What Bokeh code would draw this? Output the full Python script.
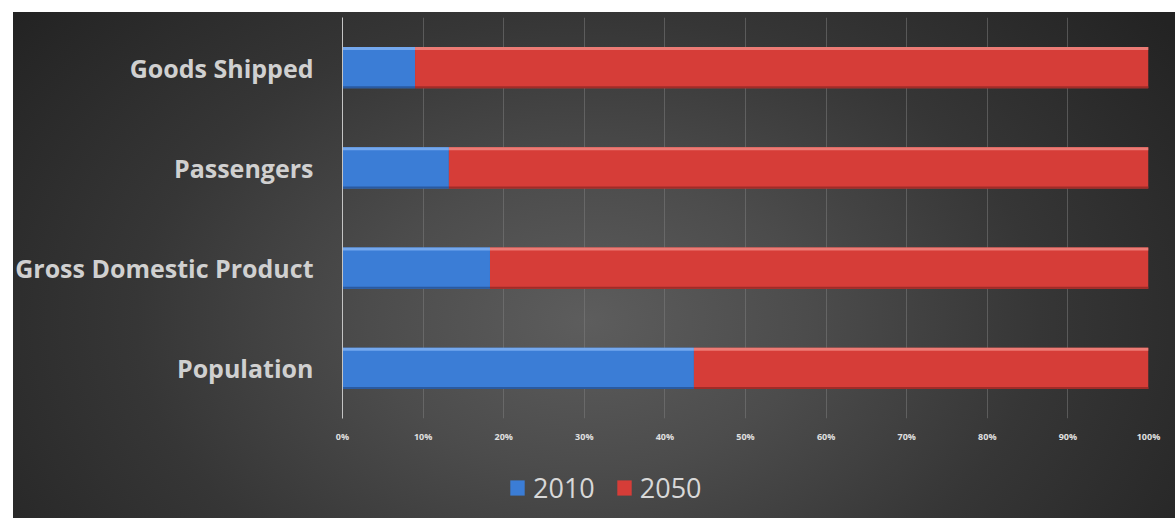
from bokeh.plotting import figure
from bokeh.models import (ColumnDataSource, FactorRange, FixedTicker, NumeralTickFormatter,
                          Legend, LegendItem, Range1d)
from bokeh.layouts import column
from bokeh.transform import dodge
from bokeh.embed import file_html
from bokeh.resources import INLINE

# ---- data (shares of total) ----
categories = ["Population", "Gross Domestic Product", "Passengers", "Goods Shipped"]
share_2010 = [0.436, 0.183, 0.132, 0.090]
share_2050 = [0.564, 0.817, 0.868, 0.910]
series_names = ["2010", "2050"]
x_ticks = [0.0, 0.1, 0.2, 0.3, 0.4, 0.5, 0.6, 0.7, 0.8, 0.9, 1.0]

blue = "#3b7dd6"
red = "#d63d38"

left_2050 = share_2010
right_2050 = [a + b for a, b in zip(share_2010, share_2050)]

src = ColumnDataSource(dict(cat=categories, s2010=share_2010, zero=[0.0] * len(categories),
                            l2050=left_2050, r2050=right_2050))

gradient = ("linear-gradient(#ffffff, #ffffff) top left / 100% 12px no-repeat, "
            "linear-gradient(#ffffff, #ffffff) top left / 13px 100% no-repeat, "
            "radial-gradient(ellipse 62% 95% at 50% 62%, #5d5d5d 0%, #4c4c4c 30%, #363636 62%, #232323 100%)")

W, H_MAIN, H_LEG = 1175, 448, 70

p = figure(width=W, height=H_MAIN, output_backend="svg", toolbar_location=None,
           y_range=FactorRange(factors=categories, range_padding=0),
           x_range=Range1d(0, 1),
           min_border_left=342, min_border_right=27, min_border_top=17, min_border_bottom=30)
p.border_fill_alpha = 0
p.background_fill_alpha = 0
p.outline_line_color = None

# main bars
r1 = p.hbar(y="cat", left="zero", right="s2010", height=0.41, source=src,
            fill_color=blue, line_color=None)
r2 = p.hbar(y="cat", left="l2050", right="r2050", height=0.41, source=src,
            fill_color=red, line_color=None)
# bevel highlights / shadows
p.hbar(y=dodge("cat", 0.19, range=p.y_range), left="zero", right="s2010", height=0.03,
       source=src, fill_color="#74a8ee", line_color=None)
p.hbar(y=dodge("cat", 0.19, range=p.y_range), left="l2050", right="r2050", height=0.03,
       source=src, fill_color="#ec7b75", line_color=None)
p.hbar(y=dodge("cat", -0.195, range=p.y_range), left="zero", right="s2010", height=0.02,
       source=src, fill_color="#2a5aa0", line_color=None)
p.hbar(y=dodge("cat", -0.195, range=p.y_range), left="l2050", right="r2050", height=0.02,
       source=src, fill_color="#a02c28", line_color=None)

# grid
p.ygrid.grid_line_color = None
p.xgrid.ticker = FixedTicker(ticks=x_ticks)
p.xgrid.grid_line_color = "#808080"
p.xgrid.grid_line_alpha = 0.5
p.xgrid.grid_line_width = 1
p.xgrid.level = "underlay"

# x axis
p.xaxis.ticker = FixedTicker(ticks=x_ticks)
p.xaxis.formatter = NumeralTickFormatter(format="0%")
p.xaxis.axis_line_color = None
p.xaxis.major_tick_line_color = None
p.xaxis.minor_tick_line_color = None
p.xaxis.major_label_standoff = 5
p.xaxis.major_label_text_font = "Open Sans"
p.xaxis.major_label_text_font_size = "9px"
p.xaxis.major_label_text_font_style = "bold"
p.xaxis.major_label_text_color = "#e0e0e0"

# y axis
p.yaxis.axis_line_color = "#c4c4c4"
p.yaxis.axis_line_width = 1
p.yaxis.major_tick_line_color = None
p.yaxis.minor_tick_line_color = None
p.yaxis.major_label_standoff = 23
p.yaxis.major_label_text_font = "Open Sans"
p.yaxis.major_label_text_font_size = "25px"
p.yaxis.major_label_text_font_style = "bold"
p.yaxis.major_label_text_color = "#d0d0d0"

# ---- legend strip below the chart ----
pl = figure(width=W, height=H_LEG, output_backend="svg", toolbar_location=None,
            x_range=Range1d(0, 1), y_range=Range1d(0, 1),
            min_border=0, x_axis_location=None, y_axis_location=None)
pl.border_fill_alpha = 0
pl.background_fill_alpha = 0
pl.outline_line_color = None
pl.grid.visible = False
nan = float("nan")
swatch = ColumnDataSource(dict(y=[nan], left=[nan], right=[nan]))
l1 = pl.hbar(y="y", left="left", right="right", height=1, source=swatch,
             fill_color=blue, line_color=None)
l2 = pl.hbar(y="y", left="left", right="right", height=1, source=swatch,
             fill_color=red, line_color=None)
legend = Legend(items=[LegendItem(label=series_names[0], renderers=[l1]),
                       LegendItem(label=series_names[1], renderers=[l2])],
                orientation="horizontal", location=(166, 12),
                glyph_width=18, glyph_height=19, label_standoff=7, spacing=20,
                padding=0, margin=0, border_line_color=None, background_fill_alpha=0,
                label_text_font="Open Sans", label_text_font_size="27px",
                label_text_color="#d8d8d8", label_height=22)
pl.add_layout(legend, "center")

layout = column(p, pl, spacing=0, width=W, height=H_MAIN + H_LEG,
                styles={"background": gradient})

open("out.html", "w").write(file_html(layout, INLINE))
